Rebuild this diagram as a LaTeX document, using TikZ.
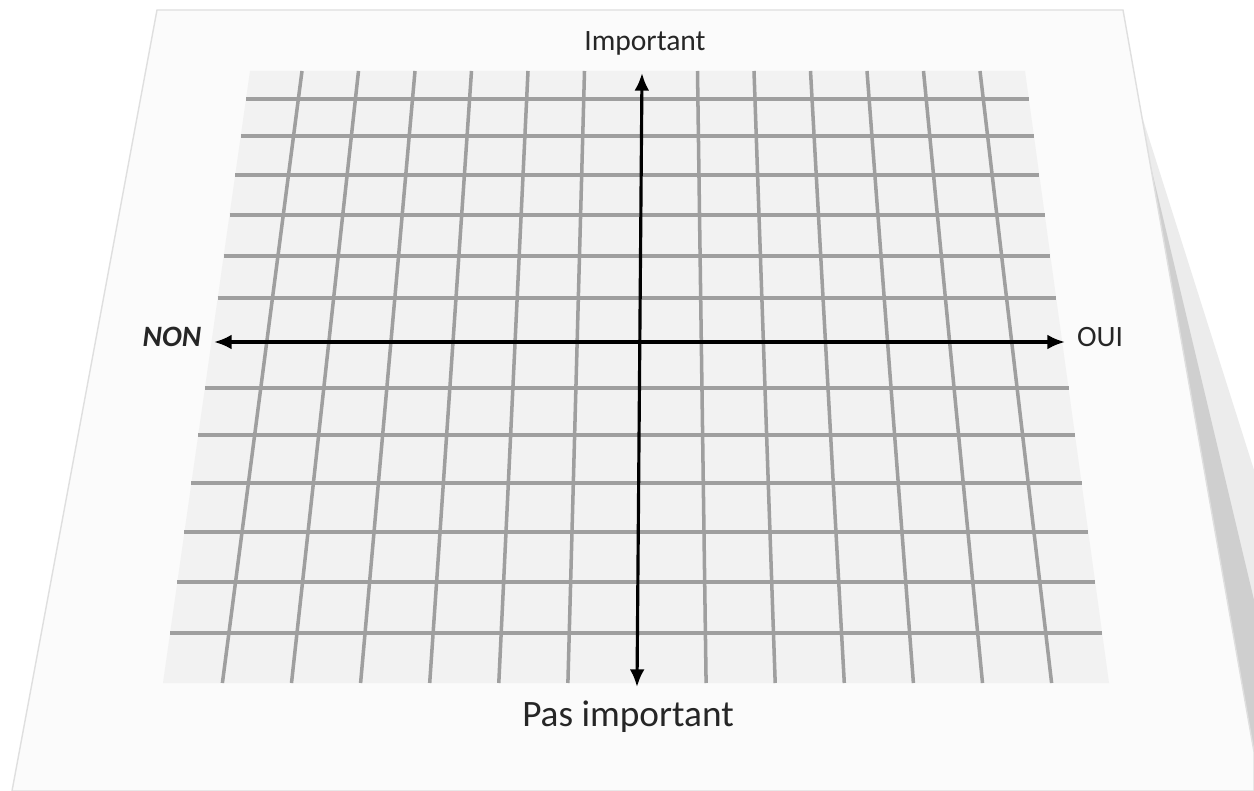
\documentclass[tikz,border=0pt]{standalone}
\usepackage{fontspec}
\setmainfont{Carlito}
\usetikzlibrary{arrows.meta}

\begin{document}
\begin{tikzpicture}[x=0.01cm,y=-0.01cm,line width=0.9pt,>={Latex[length=5pt,width=4.2pt]},
  rejilla/.style={draw=gray!75,line width=1pt},
  eje/.style={<->,line width=0.9pt,black},
  etiqueta/.style={inner sep=0pt,text=black!85,font=\fontsize{8.4}{10}\selectfont}]
  \useasboundingbox (0,0) rectangle (1254,791);
  \fill[white] (0,0) rectangle (1254,791);
  % sombra de la hoja
  \fill[gray!15] (1140,110) -- (1254,752) -- (1254,470) -- cycle;
  \fill[gray!38] (1150,163) -- (1254,752) -- (1254,600) -- cycle;
  % hoja en perspectiva
  \filldraw[fill=gray!3,draw=gray!25,line width=0.4pt] (157,10) -- (1123,10) -- (1254,752) -- (1254,791) -- (12,791) -- cycle;
  % fondo de la cuadricula
  \fill[gray!10] (250,71) -- (1025,71) -- (1109,683) -- (163,683) -- cycle;
  % lineas horizontales
  \foreach \y in {99,136,175,215,256,298,388,435,483,532,582,633}
    \draw[rejilla] ({250-0.14216*(\y-71)},\y) -- ({1025+0.13725*(\y-71)},\y);
  % lineas verticales
  \foreach \i in {-6,...,-1,1,2,...,6}
    \draw[rejilla] ({641+56.5*\i},71) -- ({637+69.1*\i},683);
  % ejes
  \coordinate (arriba) at (642,73);
  \coordinate (abajo) at (637,687);
  \coordinate (izq) at (214,342);
  \coordinate (der) at (1065,342);
  \draw[eje] (izq) -- (der);
  \draw[eje] (abajo) -- (arriba);
  % etiquetas
  \node[etiqueta] (imp) at (645,43) {Important};
  \node[etiqueta,font=\fontsize{10.6}{12}\selectfont] (pasimp) at (628,717) {Pas important};
  \node[etiqueta,font=\fontsize{8.4}{10}\selectfont\bfseries\itshape] (non) at (172,337) {NON};
  \node[etiqueta] (oui) at (1100,337) {OUI};
\end{tikzpicture}
\end{document}
